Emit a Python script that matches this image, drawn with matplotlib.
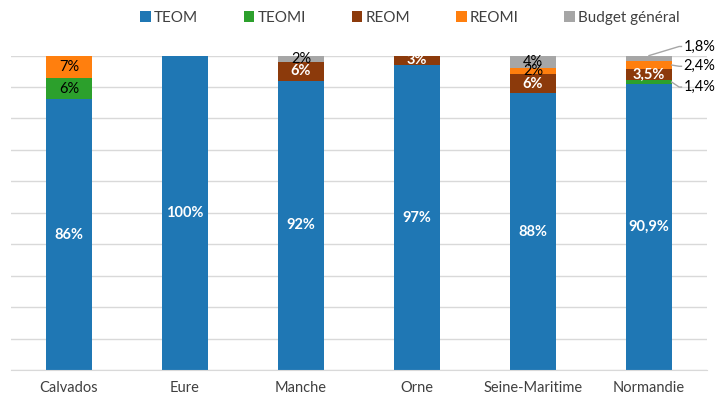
import matplotlib
matplotlib.use("Agg")
import matplotlib.pyplot as plt
import numpy as np

plt.rcParams['font.family'] = ['Lato', 'DejaVu Sans']

# data (share of each funding mode, %)
departements = ["Calvados", "Eure", "Manche", "Orne", "Seine-Maritime", "Normandie"]
teom = [86.1, 100, 92, 97, 88, 90.9]
teomi = [6.7, 0, 0, 0, 0, 1.4]
reom = [0, 0, 6, 3, 6, 3.5]
reomi = [7.2, 0, 0, 0, 2, 2.4]
budget = [0, 0, 2, 0, 4, 1.8]

# labels as printed on the chart ("" = no label)
teom_lbl = ["86%", "100%", "92%", "97%", "88%", "90,9%"]
teomi_lbl = ["6%", "", "", "", "", "1,4%"]
reom_lbl = ["", "", "6%", "3%", "6%", "3,5%"]
reomi_lbl = ["7%", "", "", "", "2%", "2,4%"]
budget_lbl = ["", "", "2%", "", "4%", "1,8%"]

series = [
    ("TEOM", teom, teom_lbl, "#1f77b4", "white"),
    ("TEOMI", teomi, teomi_lbl, "#2ca02c", "black"),
    ("REOM", reom, reom_lbl, "#8c3a0b", "white"),
    ("REOMI", reomi, reomi_lbl, "#ff7f0e", "black"),
    ("Budget général", budget, budget_lbl, "#a6a6a6", "black"),
]

fig = plt.figure(figsize=(7.22, 4.0), dpi=100)
ax = fig.add_axes([0.0152, 0.075, 0.964, 0.786])

x = np.arange(len(departements))
width = 0.39
bottom = np.zeros(len(departements))
outside = len(departements) - 1  # Normandie small segments labelled outside

for name, vals, lbls, color, tcol in series:
    vals = np.array(vals, dtype=float)
    ax.bar(x, vals, width, bottom=bottom, color=color, label=name, zorder=2)
    for i, (v, lab) in enumerate(zip(vals, lbls)):
        if not lab:
            continue
        mid = bottom[i] + v / 2
        if i == outside and name in ("TEOMI", "REOMI", "Budget général"):
            continue
        bold = tcol == "white"
        ax.text(x[i], mid, lab, ha="center", va="center", color=tcol,
                fontsize=10.5, fontweight="bold" if bold else "normal", zorder=3)
    bottom += vals

# outside labels for Normandie with leader lines
i = outside
xr = x[i] + width / 2
b_teomi = teom[i] + teomi[i] / 2
b_reomi = teom[i] + teomi[i] + reom[i] + reomi[i] / 2
out = [
    (budget_lbl[i], x[i], 100, 102.9),
    (reomi_lbl[i], xr, b_reomi, 96.6),
    (teomi_lbl[i], xr, b_teomi, 90.0),
]
for lab, x0, y0, y1 in out:
    ax.plot([x0, x[i] + 0.26, x[i] + 0.28], [y0, y1, y1], color="#a6a6a6", lw=1,
            clip_on=False, zorder=3)
    ax.text(x[i] + 0.3, y1, lab, ha="left", va="center", fontsize=10.5, color="black")

ax.set_xlim(-0.5, len(departements) - 0.5)
ax.set_ylim(0, 100)
ax.set_yticks(np.arange(0, 101, 10))
ax.set_yticklabels([])
ax.tick_params(axis="y", length=0)
ax.tick_params(axis="x", length=0, pad=8, labelsize=10.5, colors="#404040")
ax.set_xticks(x)
ax.set_xticklabels(departements)
ax.grid(axis="y", color="#d9d9d9", lw=1, zorder=0)
for s in ["left", "right", "top"]:
    ax.spines[s].set_visible(False)
ax.spines["bottom"].set_color("#d9d9d9")

ax.legend(loc="center", bbox_to_anchor=(0.573, 1.12), ncol=5, frameon=False,
          fontsize=11, handlelength=0.7, handleheight=0.7, handletextpad=0.2,
          columnspacing=3.0, labelcolor="#404040")

fig.savefig("out.png", dpi=100)
